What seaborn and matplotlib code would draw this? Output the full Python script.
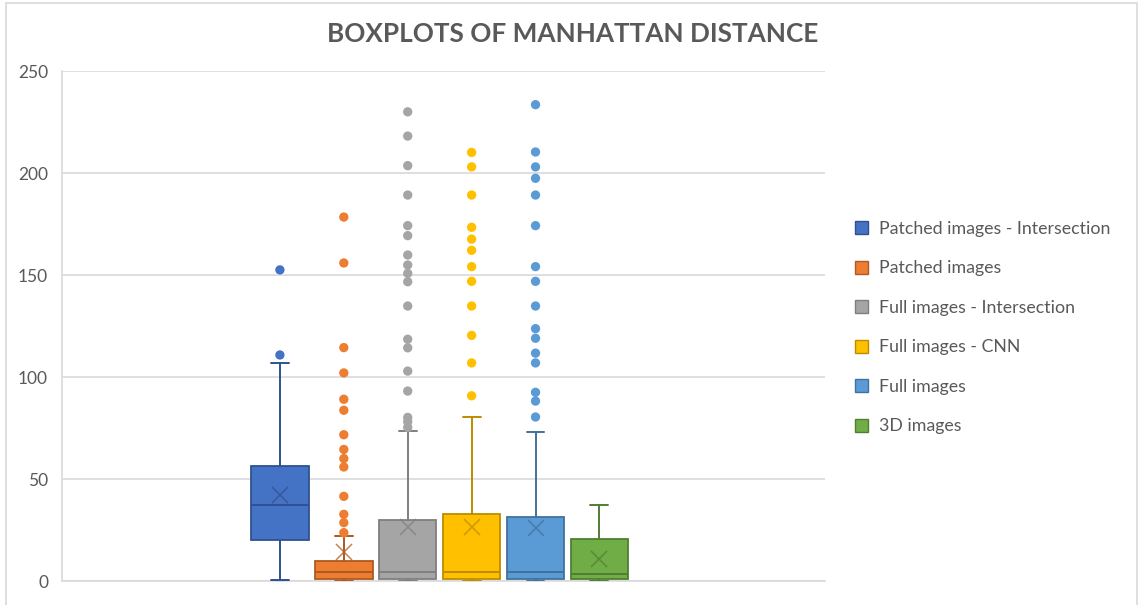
import matplotlib
matplotlib.use("Agg")
import matplotlib.pyplot as plt
from matplotlib.patches import Patch, Rectangle
import numpy as np
import pandas as pd
import seaborn as sns

# Series names (legend order)
groups = [
    "Patched images - Intersection",
    "Patched images",
    "Full images - Intersection",
    "Full images - CNN",
    "Full images",
    "3D images",
]

# Box statistics per series
whisker_low = [0.5, 0.0, 0.0, 0.0, 0.0, 0.0]
q1 = [20.1, 1.1, 1.1, 1.1, 1.1, 1.1]
median = [37.3, 4.6, 4.6, 4.6, 4.6, 3.6]
q3 = [56.4, 10.0, 29.9, 33.0, 31.4, 20.4]
whisker_high = [106.9, 22.1, 73.5, 80.4, 73.2, 37.3]
mean = [42.0, 14.4, 26.6, 26.6, 25.8, 10.8]

# Outlier points per series
outliers_patched_inter = [152.5, 110.8]
outliers_patched = [178.4, 155.9, 114.4, 102.0, 89.1, 83.7, 71.7, 64.5, 60.0,
                    55.9, 41.5, 32.7, 28.6, 23.7]
outliers_full_inter = [230.0, 218.1, 203.6, 189.2, 174.2, 169.3, 159.8, 154.9,
                       150.8, 146.7, 134.8, 118.5, 114.3, 102.9, 93.1, 80.2,
                       78.1, 75.3]
outliers_full_cnn = [210.1, 203.0, 189.2, 173.4, 167.6, 162.1, 154.1, 146.9,
                     134.8, 120.4, 106.9, 90.8]
outliers_full = [233.5, 210.3, 203.0, 197.4, 189.2, 174.2, 154.1, 146.9, 134.8,
                 123.7, 119.0, 111.7, 106.9, 92.5, 88.2, 80.4]
outliers_3d = []

y_ticks = [0, 50, 100, 150, 200, 250]

fills = ["#4472C4", "#ED7D31", "#A5A5A5", "#FFC000", "#5B9BD5", "#70AD47"]
edges = ["#2F528F", "#AE5A21", "#7F7F7F", "#BC8C00", "#41719C", "#507E32"]
text_grey = "#595959"
rule_grey = "#D9D9D9"

sns.set_theme(style="white")
plt.rcParams["font.family"] = ["Lato", "DejaVu Sans"]

fig = plt.figure(figsize=(11.4, 6.05), dpi=100)
ax = fig.add_axes([62 / 1140, 24 / 605, (825 - 62) / 1140, (581 - 71) / 605])

# outer chart border
fig.patches.append(Rectangle((6 / 1140, -0.02), 1131 / 1140, 1.02 - 3 / 605,
                             transform=fig.transFigure, fill=False,
                             edgecolor=rule_grey, linewidth=1.2, zorder=0))

positions = list(range(len(groups)))
all_outliers = [outliers_patched_inter, outliers_patched, outliers_full_inter,
                outliers_full_cnn, outliers_full, outliers_3d]

stats = []
for i in positions:
    stats.append(dict(whislo=whisker_low[i], q1=q1[i], med=median[i],
                      q3=q3[i], whishi=whisker_high[i], fliers=[],
                      label=groups[i]))

for i, st in enumerate(stats):
    ax.bxp([st], positions=[i], widths=0.9, patch_artist=True,
           showfliers=False, showmeans=False,
           boxprops=dict(facecolor=fills[i], edgecolor=edges[i], linewidth=1.3),
           medianprops=dict(color=edges[i], linewidth=1.4),
           whiskerprops=dict(color=edges[i], linewidth=1.4),
           capprops=dict(color=edges[i], linewidth=1.4),
           capwidths=0.28, zorder=3)

# outlier dots
df_out = pd.DataFrame(
    [(i, v, groups[i]) for i in positions for v in all_outliers[i]],
    columns=["pos", "value", "group"],
)
sns.scatterplot(data=df_out, x="pos", y="value", hue="group",
                palette=dict(zip(groups, fills)), s=45, linewidth=0,
                legend=False, ax=ax, zorder=4)

# mean markers
for i in positions:
    ax.plot(positions[i], mean[i], marker="x", markersize=11,
            markeredgewidth=1.2, color=edges[i], alpha=0.7, zorder=5)

ax.set_xlim(-3.41, 8.53)
ax.set_ylim(0, 250)
ax.set_yticks(y_ticks)
ax.set_xticks([])
ax.set_xlabel("")
ax.set_ylabel("")
ax.yaxis.grid(True, color=rule_grey, linewidth=1.2)
ax.set_axisbelow(True)
for side in ["top", "right"]:
    ax.spines[side].set_visible(False)
for side in ["left", "bottom"]:
    ax.spines[side].set_color(rule_grey)
    ax.spines[side].set_linewidth(1.2)
ax.tick_params(axis="y", length=0, pad=10, labelsize=12.5, labelcolor=text_grey)

fig.text(573 / 1140, 1 - 34 / 605, "BOXPLOTS OF MANHATTAN DISTANCE",
         ha="center", va="center", fontsize=18.8, fontweight="bold",
         color=text_grey)

handles = [Patch(facecolor=fills[i], edgecolor=edges[i], linewidth=1.0)
           for i in positions]
fig.legend(handles, groups, loc="upper left",
           bbox_to_anchor=(839 / 1140, 1 - 205 / 605), frameon=False,
           fontsize=12.8, labelcolor=text_grey, handlelength=0.75,
           handleheight=0.75, handletextpad=0.6, labelspacing=1.32)

fig.savefig("out.png", dpi=100)
